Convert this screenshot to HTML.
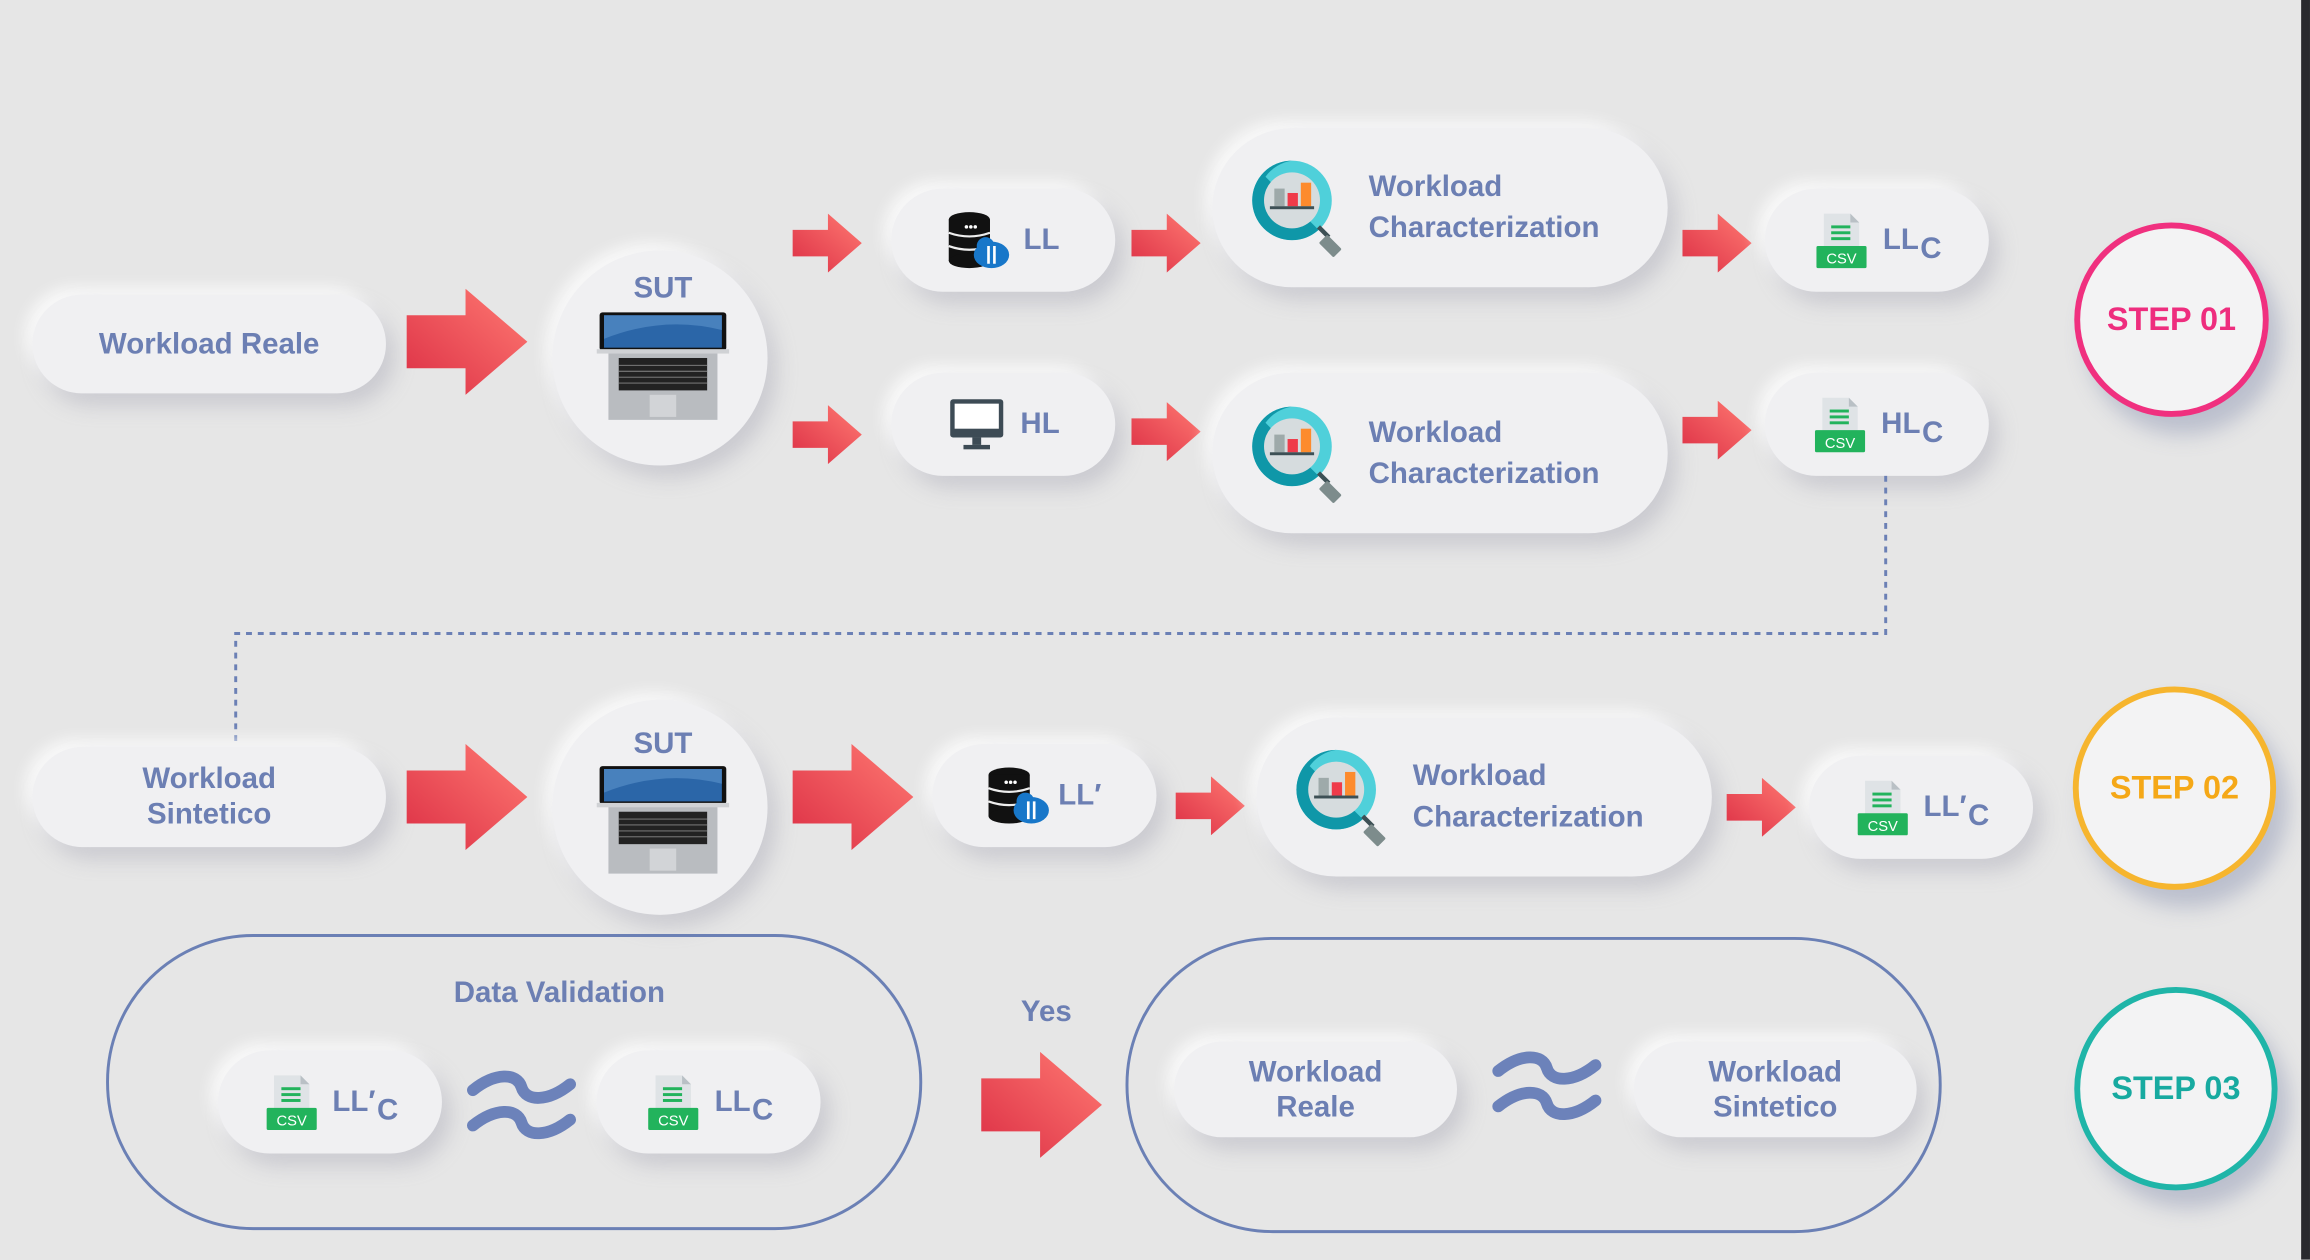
<!DOCTYPE html>
<html><head><meta charset="utf-8"><style>
html,body{margin:0;padding:0;background:#e6e6e6;}
body{width:2310px;height:1260px;overflow:hidden;position:relative;}
#w{position:absolute;left:0;top:0;width:1568px;height:855px;transform:scale(1.4732);transform-origin:0 0;font-family:"Liberation Sans",sans-serif;font-weight:bold;color:#6c7fb3;}
#w>*{position:absolute;}
.p{background:#f0f0f2;border-radius:36px;box-shadow:6px 8px 14px rgba(150,150,165,.35),-5px -5px 10px rgba(255,255,255,.8);display:flex;align-items:center;justify-content:center;font-size:20px;text-align:center;line-height:24px;}
.c{background:#f0f0f2;border-radius:50%;box-shadow:6px 8px 14px rgba(150,150,165,.35),-5px -5px 10px rgba(255,255,255,.8);}
.wc{border-radius:54px;justify-content:flex-start;text-align:left;}
.t{font-size:20px;}
sub{font-size:20px;position:relative;top:6px;vertical-align:baseline;margin-left:1px;}
.st{border-radius:50%;background:#f3f3f4;display:flex;align-items:center;justify-content:center;font-size:22px;font-family:"Liberation Sans Narrow","Liberation Sans",sans-serif;box-shadow:8px 12px 14px rgba(110,120,160,.35);}
.ol{border:2px solid #6b80b5;border-radius:100px;box-sizing:border-box;}
</style></head><body>
<svg width="0" height="0" style="position:absolute">
<defs>
<linearGradient id="g" x1="0" y1="1" x2="1" y2="0"><stop offset="0" stop-color="#dc2f45"/><stop offset="1" stop-color="#ff7a72"/></linearGradient>
<symbol id="arr" viewBox="0 0 82 72"><polygon points="0,18 40,18 40,0 82,36 40,72 40,54 0,54" fill="url(#g)"/></symbol>
<symbol id="sarr" viewBox="0 0 47 40"><polygon points="0,11 24,11 24,0 47,20 24,40 24,29 0,29" fill="url(#g)"/></symbol>
<symbol id="csv" viewBox="0 0 40 40"><path d="M8,2 H26 L32,8 V26 H8Z" fill="#dfe3e6"/><path d="M26,2 V8 H32Z" fill="#b9c0c5"/><rect x="13" y="10" width="13" height="2" fill="#22b35c"/><rect x="13" y="14" width="13" height="2" fill="#22b35c"/><rect x="13" y="18" width="13" height="2" fill="#22b35c"/><rect x="3" y="24" width="34" height="15" rx="1" fill="#22b35c"/><text x="20" y="36" font-size="10" fill="#fff" text-anchor="middle" font-family="Liberation Sans" font-weight="normal">CSV</text></symbol>
<symbol id="mag" viewBox="0 0 70 70"><circle cx="30" cy="30" r="27" fill="#4fd0da"/><path d="M30,3 A27,27 0 0 0 30,57 A27,27 0 0 0 48,50 L12,14 A27,27 0 0 1 30,3Z" fill="#0f97a8"/><circle cx="30" cy="30" r="19" fill="#d6dcde"/><rect x="18" y="22" width="7" height="12" fill="#9eaaaa"/><rect x="27" y="25" width="7" height="9" fill="#ef3b4a"/><rect x="36" y="18" width="7" height="16" fill="#fd8b2d"/><rect x="15" y="34" width="30" height="2" fill="#3d5055"/><path d="M48,48 L55,55" stroke="#3d5055" stroke-width="3"/><rect x="52" y="54" width="8" height="14" rx="1" transform="rotate(-45 56 61)" fill="#7d8c8c"/></symbol>
<symbol id="db" viewBox="0 0 44 40"><ellipse cx="15" cy="6" rx="14" ry="5" fill="#111"/><rect x="1" y="6" width="28" height="28" fill="#111"/><ellipse cx="15" cy="34" rx="14" ry="5" fill="#111"/><path d="M1,15 Q15,20 29,15 M1,24 Q15,29 29,24" stroke="#eee" stroke-width="1.5" fill="none"/><circle cx="13" cy="11" r="1.2" fill="#fff"/><circle cx="16" cy="11" r="1.2" fill="#fff"/><circle cx="19" cy="11" r="1.2" fill="#fff"/><ellipse cx="30" cy="30" rx="12" ry="9" fill="#1877c9"/><circle cx="26" cy="24" r="6" fill="#1877c9"/><path d="M28,24 V36 M32,24 V36" stroke="#fff" stroke-width="1.8"/></symbol>
<symbol id="mon" viewBox="0 0 40 40"><rect x="2" y="3" width="36" height="26" rx="2" fill="#3d4b55"/><rect x="5" y="6" width="30" height="17" fill="#fff"/><rect x="17" y="29" width="6" height="5" fill="#3d4b55"/><rect x="11" y="34" width="18" height="3" fill="#3d4b55"/></symbol>
<symbol id="lap" viewBox="0 0 90 76"><rect x="2" y="2" width="86" height="26" rx="2" fill="#111"/><rect x="5" y="4" width="80" height="22" fill="#2b66a8"/><path d="M5,4 H85 V14 Q45,4 5,20Z" fill="#5b93cc" opacity=".6"/><rect x="8" y="28" width="74" height="47" fill="#b9bcc0"/><rect x="0" y="27" width="90" height="3" fill="#d0d2d5"/><rect x="15" y="33" width="60" height="22" fill="#222"/><g stroke="#888" stroke-width=".6"><path d="M15,38 H75 M15,42 H75 M15,46 H75 M15,50 H75"/></g><rect x="36" y="58" width="18" height="15" fill="#d2d4d7"/></symbol>
<symbol id="apx" viewBox="0 0 76 48"><g fill="none" stroke="#6c82ba" stroke-width="8" stroke-linecap="round"><path d="M5,14 C20,2 35,2 38,12 C41,22 56,22 71,10"/><path d="M5,38 C20,26 35,26 38,36 C41,46 56,46 71,34"/></g></symbol>
</defs></svg>
<div id="w">
<!-- row 1 -->
<div class="p" style="left:22px;top:200px;width:240px;height:67px;">Workload Reale</div>
<svg style="left:276px;top:196px" width="82" height="72"><use href="#arr"/></svg>
<div class="c" style="left:375px;top:170px;width:146px;height:146px;"></div>
<div class="t" style="left:430px;top:185px;">SUT</div>
<svg style="left:405px;top:210px" width="90" height="76"><use href="#lap"/></svg>
<svg style="left:538px;top:145px" width="47" height="40"><use href="#sarr"/></svg>
<svg style="left:538px;top:275px" width="47" height="40"><use href="#sarr"/></svg>
<div class="p" style="left:605px;top:128px;width:152px;height:70px;"><svg width="44" height="40" style="margin-right:8px"><use href="#db"/></svg>LL</div>
<div class="p" style="left:605px;top:253px;width:152px;height:70px;"><svg width="40" height="40" style="margin-right:10px"><use href="#mon"/></svg>HL</div>
<svg style="left:768px;top:145px" width="47" height="40"><use href="#sarr"/></svg>
<svg style="left:768px;top:273px" width="47" height="40"><use href="#sarr"/></svg>
<div class="p wc" style="left:823px;top:87px;width:309px;height:108px;"><svg width="70" height="70" style="margin:0 12px 0 24px"><use href="#mag"/></svg><div style="line-height:28px">Workload<br>Characterization</div></div>
<div class="p wc" style="left:823px;top:253px;width:309px;height:109px;"><svg width="70" height="70" style="margin:0 12px 0 24px"><use href="#mag"/></svg><div style="line-height:28px">Workload<br>Characterization</div></div>
<svg style="left:1142px;top:145px" width="47" height="40"><use href="#sarr"/></svg>
<svg style="left:1142px;top:272px" width="47" height="40"><use href="#sarr"/></svg>
<div class="p" style="left:1198px;top:128px;width:152px;height:70px;"><svg width="40" height="40" style="margin-right:8px"><use href="#csv"/></svg>LL<sub>C</sub></div>
<div class="p" style="left:1198px;top:253px;width:152px;height:70px;"><svg width="40" height="40" style="margin-right:8px"><use href="#csv"/></svg>HL<sub>C</sub></div>
<div class="st" style="left:1408px;top:151px;width:124px;height:124px;border:4px solid #f0307f;color:#ee2d7e;">STEP 01</div>
<svg style="left:0;top:0" width="1568" height="855"><path d="M1280,323 V430 H160 V505" fill="none" stroke="#6b80b5" stroke-width="2" stroke-dasharray="4,4"/></svg>
<!-- row 2 -->
<div class="p" style="left:22px;top:507px;width:240px;height:68px;">Workload<br>Sintetico</div>
<svg style="left:276px;top:505px" width="82" height="72"><use href="#arr"/></svg>
<div class="c" style="left:375px;top:475px;width:146px;height:146px;"></div>
<div class="t" style="left:430px;top:494px;">SUT</div>
<svg style="left:405px;top:518px" width="90" height="76"><use href="#lap"/></svg>
<svg style="left:538px;top:505px" width="82" height="72"><use href="#arr"/></svg>
<div class="p" style="left:633px;top:505px;width:152px;height:70px;"><svg width="44" height="40" style="margin-right:4px"><use href="#db"/></svg>LL′</div>
<svg style="left:798px;top:527px" width="47" height="40"><use href="#sarr"/></svg>
<div class="p wc" style="left:853px;top:487px;width:309px;height:108px;"><svg width="70" height="70" style="margin:0 12px 0 24px"><use href="#mag"/></svg><div style="line-height:28px">Workload<br>Characterization</div></div>
<svg style="left:1172px;top:528px" width="47" height="40"><use href="#sarr"/></svg>
<div class="p" style="left:1228px;top:513px;width:152px;height:70px;"><svg width="40" height="40" style="margin-right:8px"><use href="#csv"/></svg>LL′<sub>C</sub></div>
<div class="st" style="left:1407px;top:466px;width:130px;height:130px;border:4px solid #f6b52e;color:#f5a817;">STEP 02</div>
<!-- row 3 -->
<div class="ol" style="left:72px;top:634px;width:554px;height:201px;"></div>
<div class="t" style="left:308px;top:663px;">Data Validation</div>
<div class="p" style="left:148px;top:713px;width:152px;height:70px;"><svg width="40" height="40" style="margin-right:8px"><use href="#csv"/></svg>LL′<sub>C</sub></div>
<svg style="left:316px;top:726px" width="76" height="48"><use href="#apx"/></svg>
<div class="p" style="left:405px;top:713px;width:152px;height:70px;"><svg width="40" height="40" style="margin-right:8px"><use href="#csv"/></svg>LL<sub>C</sub></div>
<div class="t" style="left:693px;top:676px;">Yes</div>
<svg style="left:666px;top:714px" width="82" height="72"><use href="#arr"/></svg>
<div class="ol" style="left:764px;top:636px;width:554px;height:201px;"></div>
<div class="p" style="left:797px;top:707px;width:192px;height:65px;">Workload<br>Reale</div>
<svg style="left:1012px;top:713px" width="76" height="48"><use href="#apx"/></svg>
<div class="p" style="left:1109px;top:707px;width:192px;height:65px;">Workload<br>Sintetico</div>
<div class="st" style="left:1408px;top:670px;width:130px;height:130px;border:4px solid #1fb5a8;color:#17aaa0;">STEP 03</div>
<div style="left:1562px;top:0;width:6px;height:855px;background:#2a2a2e;"></div>
</div>
</body></html>
